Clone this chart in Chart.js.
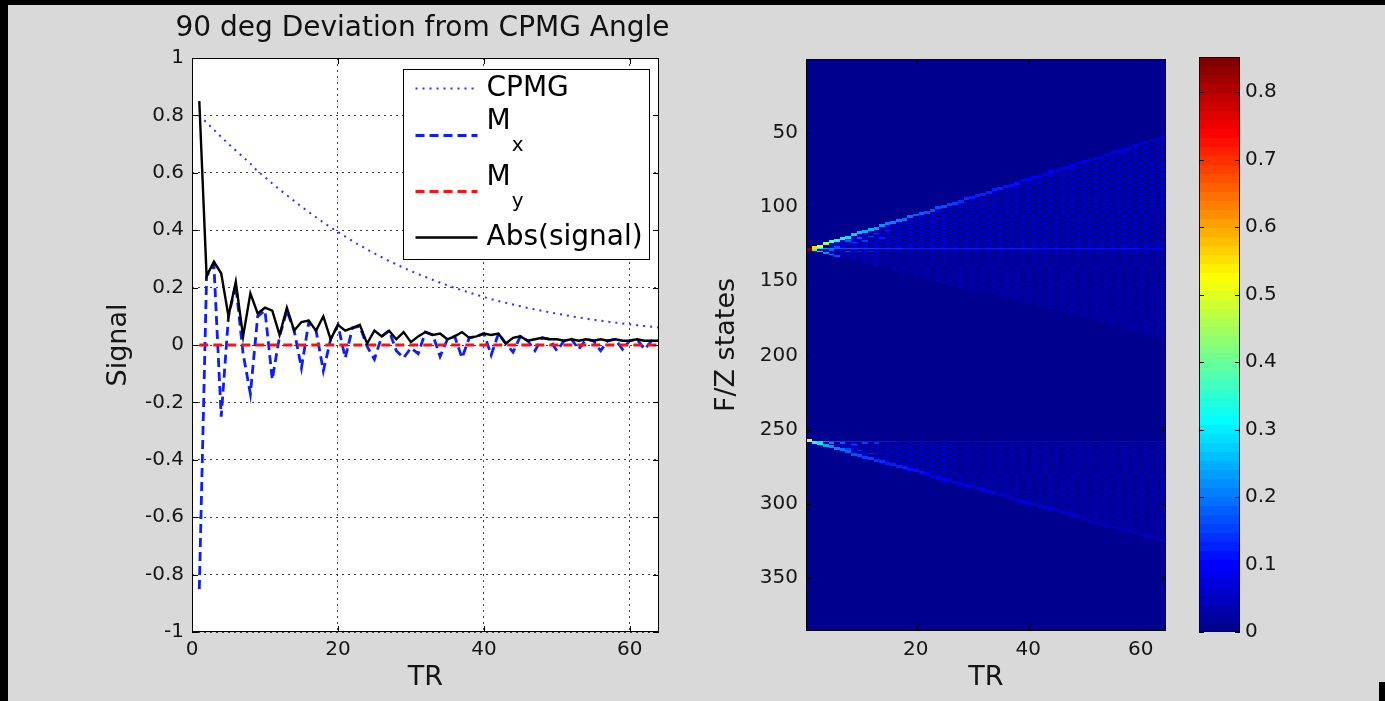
<!DOCTYPE html>
<html lang="en">
<head>
<meta charset="utf-8">
<title>90 deg Deviation from CPMG Angle</title>
<script src="https://cdn.jsdelivr.net/npm/chart.js@4.4.1/dist/chart.umd.min.js"></script>
<style>
  html, body { margin: 0; padding: 0; }
  body { position: relative; width: 1385px; height: 701px; overflow: hidden; background: #d9d9d9; }
  canvas { position: absolute; top: 0; }
  #signalChart { left: 0; }
  #stateChart { left: 700px; }
  #colorBar { left: 1180px; }
  .frame { position: absolute; background: #000; }
</style>
</head>
<body>
<canvas id="signalChart" width="700" height="701"></canvas>
<canvas id="stateChart" width="480" height="701"></canvas>
<canvas id="colorBar" width="205" height="701"></canvas>
<div class="frame" style="left:0; top:0; width:1385px; height:5px;"></div>
<div class="frame" style="left:0; top:0; width:8px; height:701px;"></div>
<div class="frame" style="left:1379px; top:682px; width:6px; height:19px;"></div>
<script>
// EPG sim: signal per TR (left) and F/Z state map (right)

// ---- left plot: signal vs TR ----
const plotTitle = '90 deg Deviation from CPMG Angle';

const trValues = [1, 2, 3, 4, 5, 6, 7, 8, 9, 10, 11, 12, 13, 14, 15, 16,
  17, 18, 19, 20, 21, 22, 23, 24, 25, 26, 27, 28, 29, 30, 31, 32,
  33, 34, 35, 36, 37, 38, 39, 40, 41, 42, 43, 44, 45, 46, 47, 48,
  49, 50, 51, 52, 53, 54, 55, 56, 57, 58, 59, 60, 61, 62, 63, 64];

const cpmgSignal = [0.800, 0.775, 0.750, 0.725, 0.700, 0.678, 0.655, 0.632, 0.605, 0.585,
  0.563, 0.542, 0.522, 0.502, 0.482, 0.463, 0.445, 0.427, 0.410, 0.394,
  0.378, 0.362, 0.347, 0.333, 0.319, 0.306, 0.293, 0.281, 0.269, 0.258,
  0.247, 0.237, 0.227, 0.217, 0.208, 0.199, 0.191, 0.183, 0.175, 0.167,
  0.160, 0.153, 0.147, 0.141, 0.135, 0.129, 0.124, 0.119, 0.114, 0.109,
  0.105, 0.100, 0.096, 0.092, 0.088, 0.085, 0.081, 0.078, 0.075, 0.072,
  0.069, 0.066, 0.064, 0.061];

const mxSignal = [-0.85, 0.24, 0.28, -0.25, 0.10, 0.21, -0.03, -0.17, 0.10, 0.12,
  -0.12, 0.03, 0.12, 0.05, -0.08, 0.08, 0.05, -0.09, 0.02, 0.07,
  -0.045, 0.06, 0.065, -0.005, -0.05, 0.03, 0.05, -0.02, -0.045, -0.01,
  -0.03, 0.045, 0.035, -0.04, 0.02, 0.03, -0.045, 0.025, 0.03, 0.04,
  -0.035, 0.04, 0.005, -0.025, 0.03, 0.015, -0.02, 0.025, 0.02, -0.02,
  0.015, 0.02, -0.015, 0.02, 0.015, -0.02, 0.015, 0.02, -0.015, 0.015,
  0.02, -0.015, 0.015, 0.015];

const mySignal = [0, 0, 0, 0, 0, 0, 0, 0, 0, 0, 0, 0, 0, 0, 0, 0,
  0, 0, 0, 0, 0, 0, 0, 0, 0, 0, 0, 0, 0, 0, 0, 0,
  0, 0, 0, 0, 0, 0, 0, 0, 0, 0, 0, 0, 0, 0, 0, 0,
  0, 0, 0, 0, 0, 0, 0, 0, 0, 0, 0, 0, 0, 0, 0, 0];

const absSignal = [0.85, 0.24, 0.29, 0.25, 0.10, 0.22, 0.03, 0.18, 0.11, 0.13,
  0.12, 0.035, 0.13, 0.05, 0.08, 0.085, 0.05, 0.10, 0.02, 0.07,
  0.05, 0.06, 0.07, 0.005, 0.05, 0.03, 0.05, 0.02, 0.045, 0.01,
  0.03, 0.045, 0.035, 0.04, 0.02, 0.03, 0.045, 0.025, 0.03, 0.04,
  0.035, 0.04, 0.005, 0.025, 0.03, 0.015, 0.02, 0.025, 0.02, 0.02,
  0.015, 0.02, 0.015, 0.02, 0.015, 0.02, 0.015, 0.02, 0.015, 0.015,
  0.02, 0.015, 0.015, 0.015];

const signalXTicks = [0, 20, 40, 60];
const signalYTicks = [-1, -0.8, -0.6, -0.4, -0.2, 0, 0.2, 0.4, 0.6, 0.8, 1];

// ---- right plot: F/Z state map (rows = state index, cols = TR) ----
const stateRowCount = 385;
const stateXTicks = [20, 40, 60];
const stateYTicks = [50, 100, 150, 200, 250, 300, 350];
const colorTicks = [0, 0.1, 0.2, 0.3, 0.4, 0.5, 0.6, 0.7, 0.8];
const colorMax = 0.852;
const fzCenterRows = [128, 258];

// outer rows of the two fans per TR
const fzUpperTop = [128, 127, 126, 124, 123, 122, 121, 120, 118, 117,
  116, 115, 114, 112, 111, 110, 109, 108, 106, 105,
  104, 103, 102, 100, 99, 98, 97, 96, 94, 93,
  92, 91, 90, 88, 87, 86, 85, 84, 82, 81,
  80, 79, 78, 76, 75, 74, 73, 72, 70, 69,
  68, 67, 66, 64, 63, 62, 61, 60, 58, 57,
  56, 55, 54, 52];
const fzUpperBottom = [128, 129, 130, 131, 132, 133, 134, 135, 136, 137,
  138, 138, 139, 140, 141, 142, 143, 144, 145, 146,
  147, 148, 149, 150, 151, 152, 153, 154, 155, 156,
  157, 157, 158, 159, 160, 161, 162, 163, 164, 165,
  166, 167, 168, 169, 170, 171, 172, 173, 174, 175,
  176, 176, 177, 178, 179, 180, 181, 182, 183, 184,
  185, 186, 187, 188];
const fzLowerBottom = [258, 259, 260, 261, 262, 263, 264, 265, 267, 268,
  269, 270, 271, 272, 273, 274, 275, 276, 277, 278,
  279, 280, 282, 283, 284, 285, 286, 287, 288, 289,
  290, 291, 292, 293, 294, 295, 297, 298, 299, 300,
  301, 302, 303, 304, 305, 306, 307, 308, 309, 310,
  312, 313, 314, 315, 316, 317, 318, 319, 320, 321,
  322, 323, 324, 325];

// magnitudes along the edges / center lines / inside the fans
const fzUpperEdge = [0.85, 0.55, 0.5, 0.45, 0.38, 0.34, 0.31, 0.29, 0.27, 0.26,
  0.25, 0.24, 0.23, 0.22, 0.21, 0.2, 0.2, 0.19, 0.19, 0.18,
  0.18, 0.17, 0.17, 0.16, 0.16, 0.15, 0.15, 0.14, 0.14, 0.13,
  0.13, 0.13, 0.12, 0.12, 0.12, 0.11, 0.11, 0.11, 0.1, 0.1,
  0.1, 0.1, 0.09, 0.09, 0.09, 0.09, 0.08, 0.08, 0.08, 0.08,
  0.08, 0.07, 0.07, 0.07, 0.07, 0.07, 0.07, 0.06, 0.06, 0.06,
  0.06, 0.06, 0.06, 0.06];
const fzLowerEdge = [0.48, 0.32, 0.3, 0.25, 0.22, 0.2, 0.19, 0.18, 0.17, 0.16,
  0.15, 0.15, 0.14, 0.14, 0.13, 0.13, 0.12, 0.12, 0.11, 0.11,
  0.11, 0.1, 0.1, 0.1, 0.1, 0.09, 0.09, 0.09, 0.09, 0.08,
  0.08, 0.08, 0.08, 0.08, 0.07, 0.07, 0.07, 0.07, 0.07, 0.07,
  0.06, 0.06, 0.06, 0.06, 0.06, 0.06, 0.06, 0.06, 0.05, 0.05,
  0.05, 0.05, 0.05, 0.05, 0.05, 0.05, 0.05, 0.05, 0.05, 0.05,
  0.05, 0.05, 0.05, 0.05];
const fzUpperLine = [0.85, 0.33, 0.3, 0.22, 0.2, 0.18, 0.17, 0.16, 0.16, 0.15,
  0.15, 0.15, 0.14, 0.14, 0.14, 0.14, 0.14, 0.13, 0.13, 0.13,
  0.13, 0.13, 0.13, 0.13, 0.13, 0.13, 0.12, 0.12, 0.12, 0.12,
  0.12, 0.12, 0.12, 0.12, 0.12, 0.12, 0.12, 0.12, 0.12, 0.12,
  0.11, 0.11, 0.11, 0.11, 0.11, 0.11, 0.11, 0.11, 0.11, 0.11,
  0.11, 0.11, 0.11, 0.11, 0.11, 0.11, 0.11, 0.11, 0.11, 0.1,
  0.1, 0.1, 0.1, 0.1];
const fzLowerLine = [0.48, 0.35, 0.28, 0.2, 0.17, 0.15, 0.14, 0.13, 0.13, 0.12,
  0.12, 0.12, 0.11, 0.11, 0.11, 0.11, 0.1, 0.1, 0.1, 0.1,
  0.1, 0.1, 0.1, 0.1, 0.1, 0.1, 0.1, 0.1, 0.095, 0.095,
  0.095, 0.095, 0.095, 0.095, 0.095, 0.095, 0.09, 0.09, 0.09, 0.09,
  0.09, 0.09, 0.09, 0.09, 0.09, 0.09, 0.09, 0.09, 0.09, 0.09,
  0.085, 0.085, 0.085, 0.085, 0.085, 0.085, 0.085, 0.085, 0.085, 0.085,
  0.085, 0.085, 0.085, 0.085];
// populated (checkerboard) interior cells of each fan
const fzUpperFill = [0, 0.075, 0.075, 0.07, 0.07, 0.07, 0.07, 0.07, 0.06, 0.06,
  0.06, 0.06, 0.06, 0.06, 0.06, 0.06, 0.058, 0.058, 0.058, 0.058,
  0.056, 0.056, 0.056, 0.056, 0.055, 0.05, 0.05, 0.05, 0.05, 0.05,
  0.05, 0.05, 0.05, 0.05, 0.05, 0.05, 0.05, 0.05, 0.05, 0.05,
  0.048, 0.048, 0.048, 0.048, 0.048, 0.048, 0.047, 0.047, 0.047, 0.047,
  0.046, 0.046, 0.046, 0.046, 0.045, 0.045, 0.045, 0.045, 0.044, 0.044,
  0.044, 0.043, 0.043, 0.042];
const fzUpperLowFill = [0, 0.06, 0.055, 0.05, 0.05, 0.048, 0.046, 0.045, 0.044, 0.043,
  0.042, 0.041, 0.04, 0.039, 0.038, 0.037, 0.036, 0.035, 0.035, 0.034,
  0.034, 0.034, 0.033, 0.033, 0.033, 0.032, 0.032, 0.032, 0.032, 0.031,
  0.031, 0.031, 0.031, 0.03, 0.03, 0.03, 0.03, 0.03, 0.03, 0.03,
  0.03, 0.029, 0.029, 0.029, 0.029, 0.029, 0.029, 0.029, 0.028, 0.028,
  0.028, 0.028, 0.028, 0.028, 0.028, 0.028, 0.028, 0.028, 0.027, 0.027,
  0.027, 0.027, 0.027, 0.027];
const fzLowerFill = [0, 0.07, 0.07, 0.065, 0.06, 0.06, 0.058, 0.056, 0.055, 0.052,
  0.05, 0.05, 0.048, 0.047, 0.046, 0.045, 0.044, 0.043, 0.043, 0.042,
  0.042, 0.041, 0.041, 0.04, 0.04, 0.04, 0.039, 0.039, 0.038, 0.038,
  0.038, 0.037, 0.037, 0.036, 0.036, 0.036, 0.035, 0.035, 0.035, 0.034,
  0.034, 0.034, 0.033, 0.033, 0.033, 0.032, 0.032, 0.032, 0.031, 0.031,
  0.031, 0.03, 0.03, 0.03, 0.03, 0.03, 0.03, 0.03, 0.03, 0.029,
  0.029, 0.029, 0.029, 0.029];

// isolated brighter cells near the start: [TR, row, value]
const fzSpots = [
  [2, 129, 0.35], [3, 130, 0.3], [3, 126, 0.28], [4, 131, 0.22], [5, 132, 0.2],
  [5, 129, 0.18], [6, 133, 0.17], [6, 127, 0.17], [7, 121, 0.2], [8, 123, 0.18],
  [8, 130, 0.15], [9, 124, 0.15], [10, 121, 0.17], [10, 130, 0.13], [11, 123, 0.15],
  [12, 120, 0.15], [12, 130, 0.12], [13, 118, 0.14], [14, 121, 0.13], [15, 116, 0.13],
  [3, 259, 0.3], [4, 260, 0.22], [5, 259, 0.2], [7, 259, 0.18], [9, 260, 0.16],
  [11, 259, 0.15], [13, 259, 0.14], [6, 262, 0.16], [8, 263, 0.15], [10, 264, 0.14],
  [12, 266, 0.13]
];

const FONT_FAMILY = "'DejaVu Sans', 'Liberation Sans', Arial, sans-serif";
const TEXT_COLOR = '#151515';
Chart.defaults.font.family = FONT_FAMILY;
Chart.defaults.color = TEXT_COLOR;

// MATLAB jet(64), level 1..64
function jetColor(level) {
  const u = k => (k < 1 || k > 47) ? 0 : (k <= 16 ? k / 16 : (k <= 31 ? 1 : (48 - k) / 16));
  const c = k => Math.round(u(k) * 255);
  return `rgb(${c(level - 24)},${c(level - 8)},${c(level + 8)})`;
}
function levelFor(v) {
  return Math.max(1, Math.min(64, Math.floor(v / colorMax * 64) + 1));
}

function fixedTicks(values) {
  return scale => { scale.ticks = values.map(v => ({ value: v })); };
}
function fixSize(prop, size) {
  return scale => {
    scale[prop] = size;
    scale.paddingTop = scale.paddingBottom = scale.paddingLeft = scale.paddingRight = 0;
  };
}

// black box with inward tick marks on all four sides
function axesFrame(tickLen) {
  return {
    id: 'axesFrame',
    afterDraw(chart) {
      const { ctx, chartArea: a, scales } = chart;
      ctx.save();
      ctx.strokeStyle = '#000';
      ctx.lineWidth = 1;
      ctx.setLineDash([]);
      ctx.beginPath();
      if (scales.x.options.display) {
        scales.x.ticks.forEach(t => {
          const px = Math.round(scales.x.getPixelForValue(t.value)) + 0.5;
          ctx.moveTo(px, a.bottom); ctx.lineTo(px, a.bottom - tickLen);
          ctx.moveTo(px, a.top); ctx.lineTo(px, a.top + tickLen);
        });
      }
      scales.y.ticks.forEach(t => {
        const py = Math.round(scales.y.getPixelForValue(t.value)) + 0.5;
        ctx.moveTo(a.left, py); ctx.lineTo(a.left + tickLen, py);
        ctx.moveTo(a.right, py); ctx.lineTo(a.right - tickLen, py);
      });
      ctx.stroke();
      ctx.strokeRect(Math.round(a.left) + 0.5, Math.round(a.top) + 0.5,
        Math.round(a.width) - 1, Math.round(a.height) - 1);
      ctx.restore();
    }
  };
}

// white axes background plus the plot title centred over it
const signalAxes = {
  id: 'signalAxes',
  beforeDraw(chart) {
    const { ctx, chartArea: a } = chart;
    ctx.save();
    ctx.fillStyle = '#fff';
    ctx.fillRect(a.left, a.top, a.width, a.height);
    ctx.fillStyle = '#111';
    ctx.font = `28px ${FONT_FAMILY}`;
    ctx.textAlign = 'center';
    ctx.textBaseline = 'middle';
    ctx.fillText(plotTitle, (a.left + a.right) / 2 - 3, a.top - 29.5);
    ctx.restore();
  }
};

// legend box in the top right corner, with TeX-like subscripts for M_x / M_y
const signalLegend = {
  id: 'signalLegend',
  afterDatasetsDraw(chart) {
    const { ctx, chartArea: a } = chart;
    const boxW = 246, boxH = 190;
    const bx = Math.round(a.right - 10 - boxW) + 0.5;
    const by = Math.round(a.top + 11) + 0.5;
    const lineY = [19, 66, 122, 168];
    ctx.save();
    ctx.fillStyle = '#fff';
    ctx.fillRect(bx, by, boxW, boxH);
    ctx.strokeStyle = '#000';
    ctx.lineWidth = 1;
    ctx.setLineDash([]);
    ctx.strokeRect(bx, by, boxW, boxH);

    chart.data.datasets.forEach((ds, i) => {
      const y = by + lineY[i];
      ctx.beginPath();
      ctx.strokeStyle = ds.borderColor;
      ctx.lineWidth = ds.borderWidth;
      ctx.setLineDash(ds.borderDash || []);
      ctx.moveTo(bx + 12, y);
      ctx.lineTo(bx + 74, y);
      ctx.stroke();

      ctx.setLineDash([]);
      ctx.fillStyle = '#000';
      ctx.textAlign = 'left';
      ctx.textBaseline = 'middle';
      const [main, sub] = ds.label.split('_');
      ctx.font = `28px ${FONT_FAMILY}`;
      if (sub) {
        ctx.fillText(main, bx + 83, y - 14);
        const w = ctx.measureText(main).width;
        ctx.font = `20px ${FONT_FAMILY}`;
        ctx.fillText(sub, bx + 83 + w + 1, y + 10);
      } else {
        ctx.fillText(main, bx + 83, y);
      }
    });
    ctx.restore();
  }
};

const toPoints = arr => trValues.map((t, i) => ({ x: t, y: arr[i] }));

new Chart(document.getElementById('signalChart'), {
  type: 'line',
  data: {
    datasets: [
      { label: 'CPMG', data: toPoints(cpmgSignal), borderColor: '#2f2fff', borderWidth: 2,
        borderDash: [2, 5], pointRadius: 0, order: 4 },
      { label: 'M_x', data: toPoints(mxSignal), borderColor: '#0a1eff', borderWidth: 2.8,
        borderDash: [9, 5], pointRadius: 0, order: 3 },
      { label: 'M_y', data: toPoints(mySignal), borderColor: '#ff1010', borderWidth: 2.8,
        borderDash: [9, 5], pointRadius: 0, order: 2 },
      { label: 'Abs(signal)', data: toPoints(absSignal), borderColor: '#000000', borderWidth: 2.4,
        pointRadius: 0, order: 1 }
    ]
  },
  options: {
    responsive: false,
    animation: false,
    devicePixelRatio: 1,
    layout: { padding: { left: 0, top: 58, right: 41, bottom: 0 }, autoPadding: false },
    plugins: {
      legend: { display: false },
      tooltip: { enabled: false }
    },
    scales: {
      x: {
        type: 'linear', min: 0, max: 64,
        afterBuildTicks: fixedTicks(signalXTicks),
        afterFit: fixSize('height', 69),
        grid: { color: 'rgba(0,0,0,0.75)', lineWidth: 1, drawTicks: false },
        border: { display: false, dash: [2, 4] },
        ticks: { font: { size: 20 }, padding: 6, callback: v => String(v) },
        title: { display: true, text: 'TR', font: { size: 27 }, padding: { top: 0, bottom: 7 } }
      },
      y: {
        type: 'linear', min: -1, max: 1,
        afterBuildTicks: fixedTicks(signalYTicks),
        afterFit: fixSize('width', 192),
        grid: { color: 'rgba(0,0,0,0.75)', lineWidth: 1, drawTicks: false },
        border: { display: false, dash: [2, 4] },
        ticks: { font: { size: 20 }, padding: 8, callback: v => String(v) },
        title: { display: true, text: 'Signal', font: { size: 27 }, padding: { top: 103, bottom: 0 } }
      }
    }
  },
  plugins: [signalAxes, signalLegend, axesFrame(6)]
});

// ---- state map ----
function buildStateCells() {
  const grid = trValues.map(() => new Array(stateRowCount + 1).fill(0));
  const put = (i, row, v) => {
    if (row >= 1 && row <= stateRowCount && v > grid[i][row]) grid[i][row] = v;
  };
  trValues.forEach((tr, i) => {
    // only every other state is populated at a given TR (checkerboard)
    const populated = r => (r + tr) % 2 === 0;
    for (let r = fzUpperTop[i]; r < fzCenterRows[0]; r++) if (populated(r)) put(i, r, fzUpperFill[i]);
    for (let r = fzCenterRows[0] + 1; r <= fzUpperBottom[i]; r++) if (populated(r)) put(i, r, fzUpperLowFill[i]);
    for (let r = fzCenterRows[1] + 1; r <= fzLowerBottom[i]; r++) if (populated(r)) put(i, r, fzLowerFill[i]);
    put(i, fzCenterRows[0], fzUpperLine[i]);
    put(i, fzCenterRows[1], fzLowerLine[i]);
    put(i, fzUpperTop[i], fzUpperEdge[i]);
    put(i, fzUpperTop[i] + 1, fzUpperEdge[i]);
    put(i, fzLowerBottom[i], fzLowerEdge[i]);
    put(i, fzLowerBottom[i] - 1, fzLowerEdge[i]);
  });
  fzSpots.forEach(([tr, row, v]) => put(tr - 1, row, v));

  const cells = [];
  grid.forEach((col, i) => {
    col.forEach((v, row) => {
      if (v > 0) cells.push({ x: trValues[i], y: row, v: v });
    });
  });
  return cells;
}

const stateMap = {
  id: 'stateMap',
  beforeDatasetsDraw(chart) {
    const { ctx, chartArea: a, scales: { x, y } } = chart;
    ctx.save();
    ctx.fillStyle = jetColor(1);
    ctx.fillRect(a.left, a.top, a.width, a.height);
    chart.data.datasets[0].data.forEach(c => {
      const x0 = Math.round(x.getPixelForValue(c.x - 0.5));
      const x1 = Math.round(x.getPixelForValue(c.x + 0.5));
      const y0 = Math.round(y.getPixelForValue(c.y - 0.5));
      const y1 = Math.round(y.getPixelForValue(c.y + 0.5));
      ctx.fillStyle = jetColor(levelFor(c.v));
      ctx.fillRect(Math.min(x0, x1), Math.min(y0, y1), Math.abs(x1 - x0), Math.abs(y1 - y0));
    });
    ctx.restore();
  }
};

new Chart(document.getElementById('stateChart'), {
  type: 'scatter',
  data: { datasets: [{ label: 'F/Z states', data: buildStateCells(), pointRadius: 0, pointHoverRadius: 0 }] },
  options: {
    responsive: false,
    animation: false,
    devicePixelRatio: 1,
    layout: { padding: { left: 0, top: 59, right: 14, bottom: 0 }, autoPadding: false },
    plugins: { legend: { display: false }, tooltip: { enabled: false } },
    scales: {
      x: {
        type: 'linear', min: 0.5, max: 64.5,
        afterBuildTicks: fixedTicks(stateXTicks),
        afterFit: fixSize('height', 70),
        grid: { display: false, drawTicks: false },
        border: { display: false },
        ticks: { font: { size: 20 }, padding: 7, callback: v => String(v) },
        title: { display: true, text: 'TR', font: { size: 27 }, padding: { top: 0, bottom: 7 } }
      },
      y: {
        type: 'linear', reverse: true, min: 0.5, max: stateRowCount + 0.5,
        afterBuildTicks: fixedTicks(stateYTicks),
        afterFit: fixSize('width', 106),
        grid: { display: false, drawTicks: false },
        border: { display: false },
        ticks: { font: { size: 20 }, padding: 8, callback: v => String(v) },
        title: { display: true, text: 'F/Z states', font: { size: 27 }, padding: { top: 11, bottom: 0 } }
      }
    }
  },
  plugins: [stateMap, axesFrame(5)]
});

// ---- colour bar ----
const colorBarFill = {
  id: 'colorBarFill',
  beforeDatasetsDraw(chart) {
    const { ctx, chartArea: a, scales: { y } } = chart;
    ctx.save();
    for (let level = 1; level <= 64; level++) {
      const yTop = Math.round(y.getPixelForValue(level * colorMax / 64));
      const yBot = Math.round(y.getPixelForValue((level - 1) * colorMax / 64));
      ctx.fillStyle = jetColor(level);
      ctx.fillRect(a.left, yTop, a.width, yBot - yTop);
    }
    ctx.restore();
  }
};

new Chart(document.getElementById('colorBar'), {
  type: 'scatter',
  data: { datasets: [] },
  options: {
    responsive: false,
    animation: false,
    devicePixelRatio: 1,
    layout: { padding: { left: 19, top: 57, right: 0, bottom: 69 }, autoPadding: false },
    plugins: { legend: { display: false }, tooltip: { enabled: false } },
    scales: {
      x: { type: 'linear', min: 0, max: 1, display: false },
      y: {
        type: 'linear', position: 'right', min: 0, max: colorMax,
        afterBuildTicks: fixedTicks(colorTicks),
        afterFit: fixSize('width', 145),
        grid: { display: false, drawTicks: false },
        border: { display: false },
        ticks: { font: { size: 20 }, padding: 5, callback: v => String(v) }
      }
    }
  },
  plugins: [colorBarFill, axesFrame(5)]
});
</script>
</body>
</html>
